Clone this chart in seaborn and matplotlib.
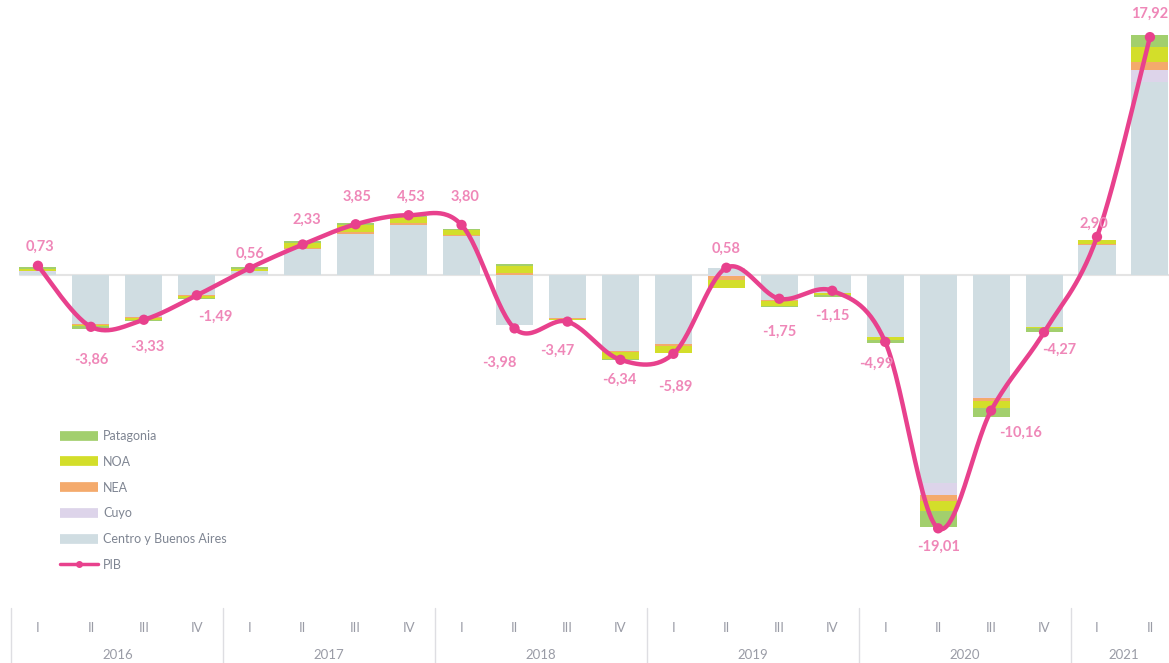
import numpy as np
import pandas as pd
import matplotlib
matplotlib.use("Agg")
import matplotlib.pyplot as plt
import matplotlib.transforms as mtransforms
from matplotlib.lines import Line2D
import seaborn as sns

# ---------------- data ----------------
years = ["2016", "2017", "2018", "2019", "2020", "2021"]
quarters = ["I", "II", "III", "IV", "I", "II", "III", "IV", "I", "II", "III", "IV",
            "I", "II", "III", "IV", "I", "II", "III", "IV", "I", "II"]
year_of_q = ["2016"] * 4 + ["2017"] * 4 + ["2018"] * 4 + ["2019"] * 4 + ["2020"] * 4 + ["2021"] * 2

pib = [0.73, -3.86, -3.33, -1.49, 0.56, 2.33, 3.85, 4.53, 3.80, -3.98, -3.47, -6.34,
       -5.89, 0.58, -1.75, -1.15, -4.99, -19.01, -10.16, -4.27, 2.90, 17.92]

centro = [0.25, -3.65, -3.15, -1.45, 0.30, 2.00, 3.10, 3.80, 2.95, -3.70, -3.20, -5.65,
          -5.15, 0.59, -1.85, -1.30, -4.60, -15.60, -9.15, -3.85, 2.30, 14.55]
cuyo = [0.05, -0.03, 0.00, 0.00, 0.00, 0.00, 0.05, 0.00, 0.00, 0.05, 0.00, 0.00,
        0.00, -0.05, 0.00, 0.00, 0.00, -0.90, -0.05, 0.00, 0.00, 0.90]
nea = [0.05, -0.05, -0.05, -0.10, 0.05, 0.10, 0.12, 0.15, 0.10, 0.10, -0.05, -0.12,
       -0.15, -0.30, -0.08, -0.05, 0.00, -0.43, -0.22, 0.00, 0.05, 0.60]
noa = [0.15, -0.10, -0.15, -0.15, 0.15, 0.35, 0.55, 0.45, 0.35, 0.55, -0.08, -0.50,
       -0.50, -0.60, -0.40, -0.10, -0.25, -0.77, -0.53, -0.10, 0.32, 1.10]
patagonia = [0.15, -0.20, -0.05, -0.10, 0.10, 0.15, 0.15, 0.10, 0.10, 0.15, 0.00, -0.05,
             -0.05, 0.00, -0.05, -0.15, -0.25, -1.20, -0.68, -0.30, 0.00, 0.90]

series_names = ["Centro y Buenos Aires", "Cuyo", "NEA", "NOA", "Patagonia"]
series_vals = [centro, cuyo, nea, noa, patagonia]
series_cols = ["#d0dde2", "#ddd4ea", "#f4aa6c", "#d3de2a", "#a2cf6d"]
pib_col = "#e8418d"
label_col = "#ef87b8"
grey_txt = "#9a9ca6"

# label placement offsets in pixels (dx, dy) relative to each PIB point
label_offsets = [(2, 19), (0, -33), (3, -27), (19, -22), (0, 14), (4, 25), (1, 27), (3, 18),
                 (3, 28), (-15, -34), (-10, -29), (-1, -20), (2, -33), (0, 19), (0, -33),
                 (0, -25), (-9, -22), (0, -18), (29, -22), (15, -18), (-3, 13), (0, 23)]

# ---------------- figure ----------------
sns.set_theme(style="white")
plt.rcParams["font.family"] = ["Lato", "DejaVu Sans"]

W, H = 1169, 663
fig = plt.figure(figsize=(W / 100, H / 100), dpi=100)
ax = fig.add_axes([12 / W, 55 / H, 1 - 12 / W, 608 / H])

n = len(pib)
xpos = np.arange(n)
ids = [f"{y} {q}" for y, q in zip(year_of_q, quarters)]

pos_base = np.zeros(n)
neg_base = np.zeros(n)
for name, vals, col in zip(series_names, series_vals, series_cols):
    v = np.array(vals, dtype=float)
    bottoms = np.where(v >= 0, pos_base, neg_base)
    df = pd.DataFrame({"q": ids, "v": v})
    sns.barplot(data=df, x="q", y="v", order=ids, color=col, saturation=1,
                width=0.7, bottom=bottoms, ax=ax, errorbar=None, zorder=2,
                linewidth=0)
    pos_base = pos_base + np.where(v >= 0, v, 0)
    neg_base = neg_base + np.where(v < 0, v, 0)

ax.axhline(0, color="#e4e4e4", lw=1.5, zorder=0, xmin=8 / 1157)

# smoothed PIB line (Catmull-Rom rendering through the data points)
def catmull_rom(x, y, steps=30):
    x = np.asarray(x, float)
    y = np.asarray(y, float)
    px = np.concatenate([[x[0]], x, [x[-1]]])
    py = np.concatenate([[y[0]], y, [y[-1]]])
    outx, outy = [], []
    for i in range(1, len(px) - 2):
        t = np.linspace(0, 1, steps, endpoint=False)
        m0x = (px[i + 1] - px[i - 1]) / 2
        m1x = (px[i + 2] - px[i]) / 2
        m0y = (py[i + 1] - py[i - 1]) / 2
        m1y = (py[i + 2] - py[i]) / 2
        h00 = 2 * t**3 - 3 * t**2 + 1
        h10 = t**3 - 2 * t**2 + t
        h01 = -2 * t**3 + 3 * t**2
        h11 = t**3 - t**2
        outx.append(h00 * px[i] + h10 * m0x + h01 * px[i + 1] + h11 * m1x)
        outy.append(h00 * py[i] + h10 * m0y + h01 * py[i + 1] + h11 * m1y)
    outx.append([x[-1]])
    outy.append([y[-1]])
    return np.concatenate(outx), np.concatenate(outy)

sx, sy = catmull_rom(xpos, pib)
ax.plot(sx, sy, color=pib_col, lw=3.2, zorder=4, solid_capstyle="round")
sns.scatterplot(x=xpos, y=pib, color=pib_col, s=55, edgecolor="none", zorder=5, ax=ax,
                legend=False)

for i, v in enumerate(pib):
    dx, dy = label_offsets[i]
    ax.annotate(f"{v:.2f}".replace(".", ","), (xpos[i], v), xytext=(dx, dy),
                textcoords="offset pixels", ha="center", va="center",
                color=label_col, fontsize=10.5, fontweight="bold", zorder=6)

# axes styling
ax.set_xlim(-0.49, 21.36)
ax.set_ylim(-25.0, 20.71)
ax.set_yticks([])
ax.set_ylabel("")
ax.set_xlabel("")
ax.set_xticks(xpos)
ax.set_xticklabels(quarters, color=grey_txt, fontsize=9.5)
ax.tick_params(axis="x", length=0, pad=10)
for s in ax.spines.values():
    s.set_visible(False)

trans = mtransforms.blended_transform_factory(ax.transData, ax.transAxes)
year_centers = {}
for i, y in enumerate(year_of_q):
    year_centers.setdefault(y, []).append(i)
for y in years:
    c = np.mean(year_centers[y])
    ax.text(c, -47 / 608, y, transform=trans, ha="center", va="center",
            color=grey_txt, fontsize=9.5)

bounds = [-0.5] + [year_centers[y][-1] + 0.5 for y in years[:-1]]
for b in bounds:
    ax.plot([b, b], [0, -56 / 608], transform=trans, color="#dedee2", lw=1,
            clip_on=False)

# legend
handles = []
labels = []
for name, col in zip(series_names[::-1], series_cols[::-1]):
    handles.append(Line2D([], [], color=col, lw=7, solid_capstyle="butt"))
    labels.append(name)
handles.append(Line2D([], [], color=pib_col, lw=2.5, marker="o", markersize=4))
labels.append("PIB")
leg = fig.legend(handles, labels, loc="upper left",
                 bbox_to_anchor=(60 / W, 1 - 430 / H), frameon=False,
                 fontsize=9, handlelength=3.0, handletextpad=0.45,
                 labelspacing=1.1, borderpad=0, borderaxespad=0)
for t in leg.get_texts():
    t.set_color("#7f8592")

fig.savefig("out.png", dpi=100)
